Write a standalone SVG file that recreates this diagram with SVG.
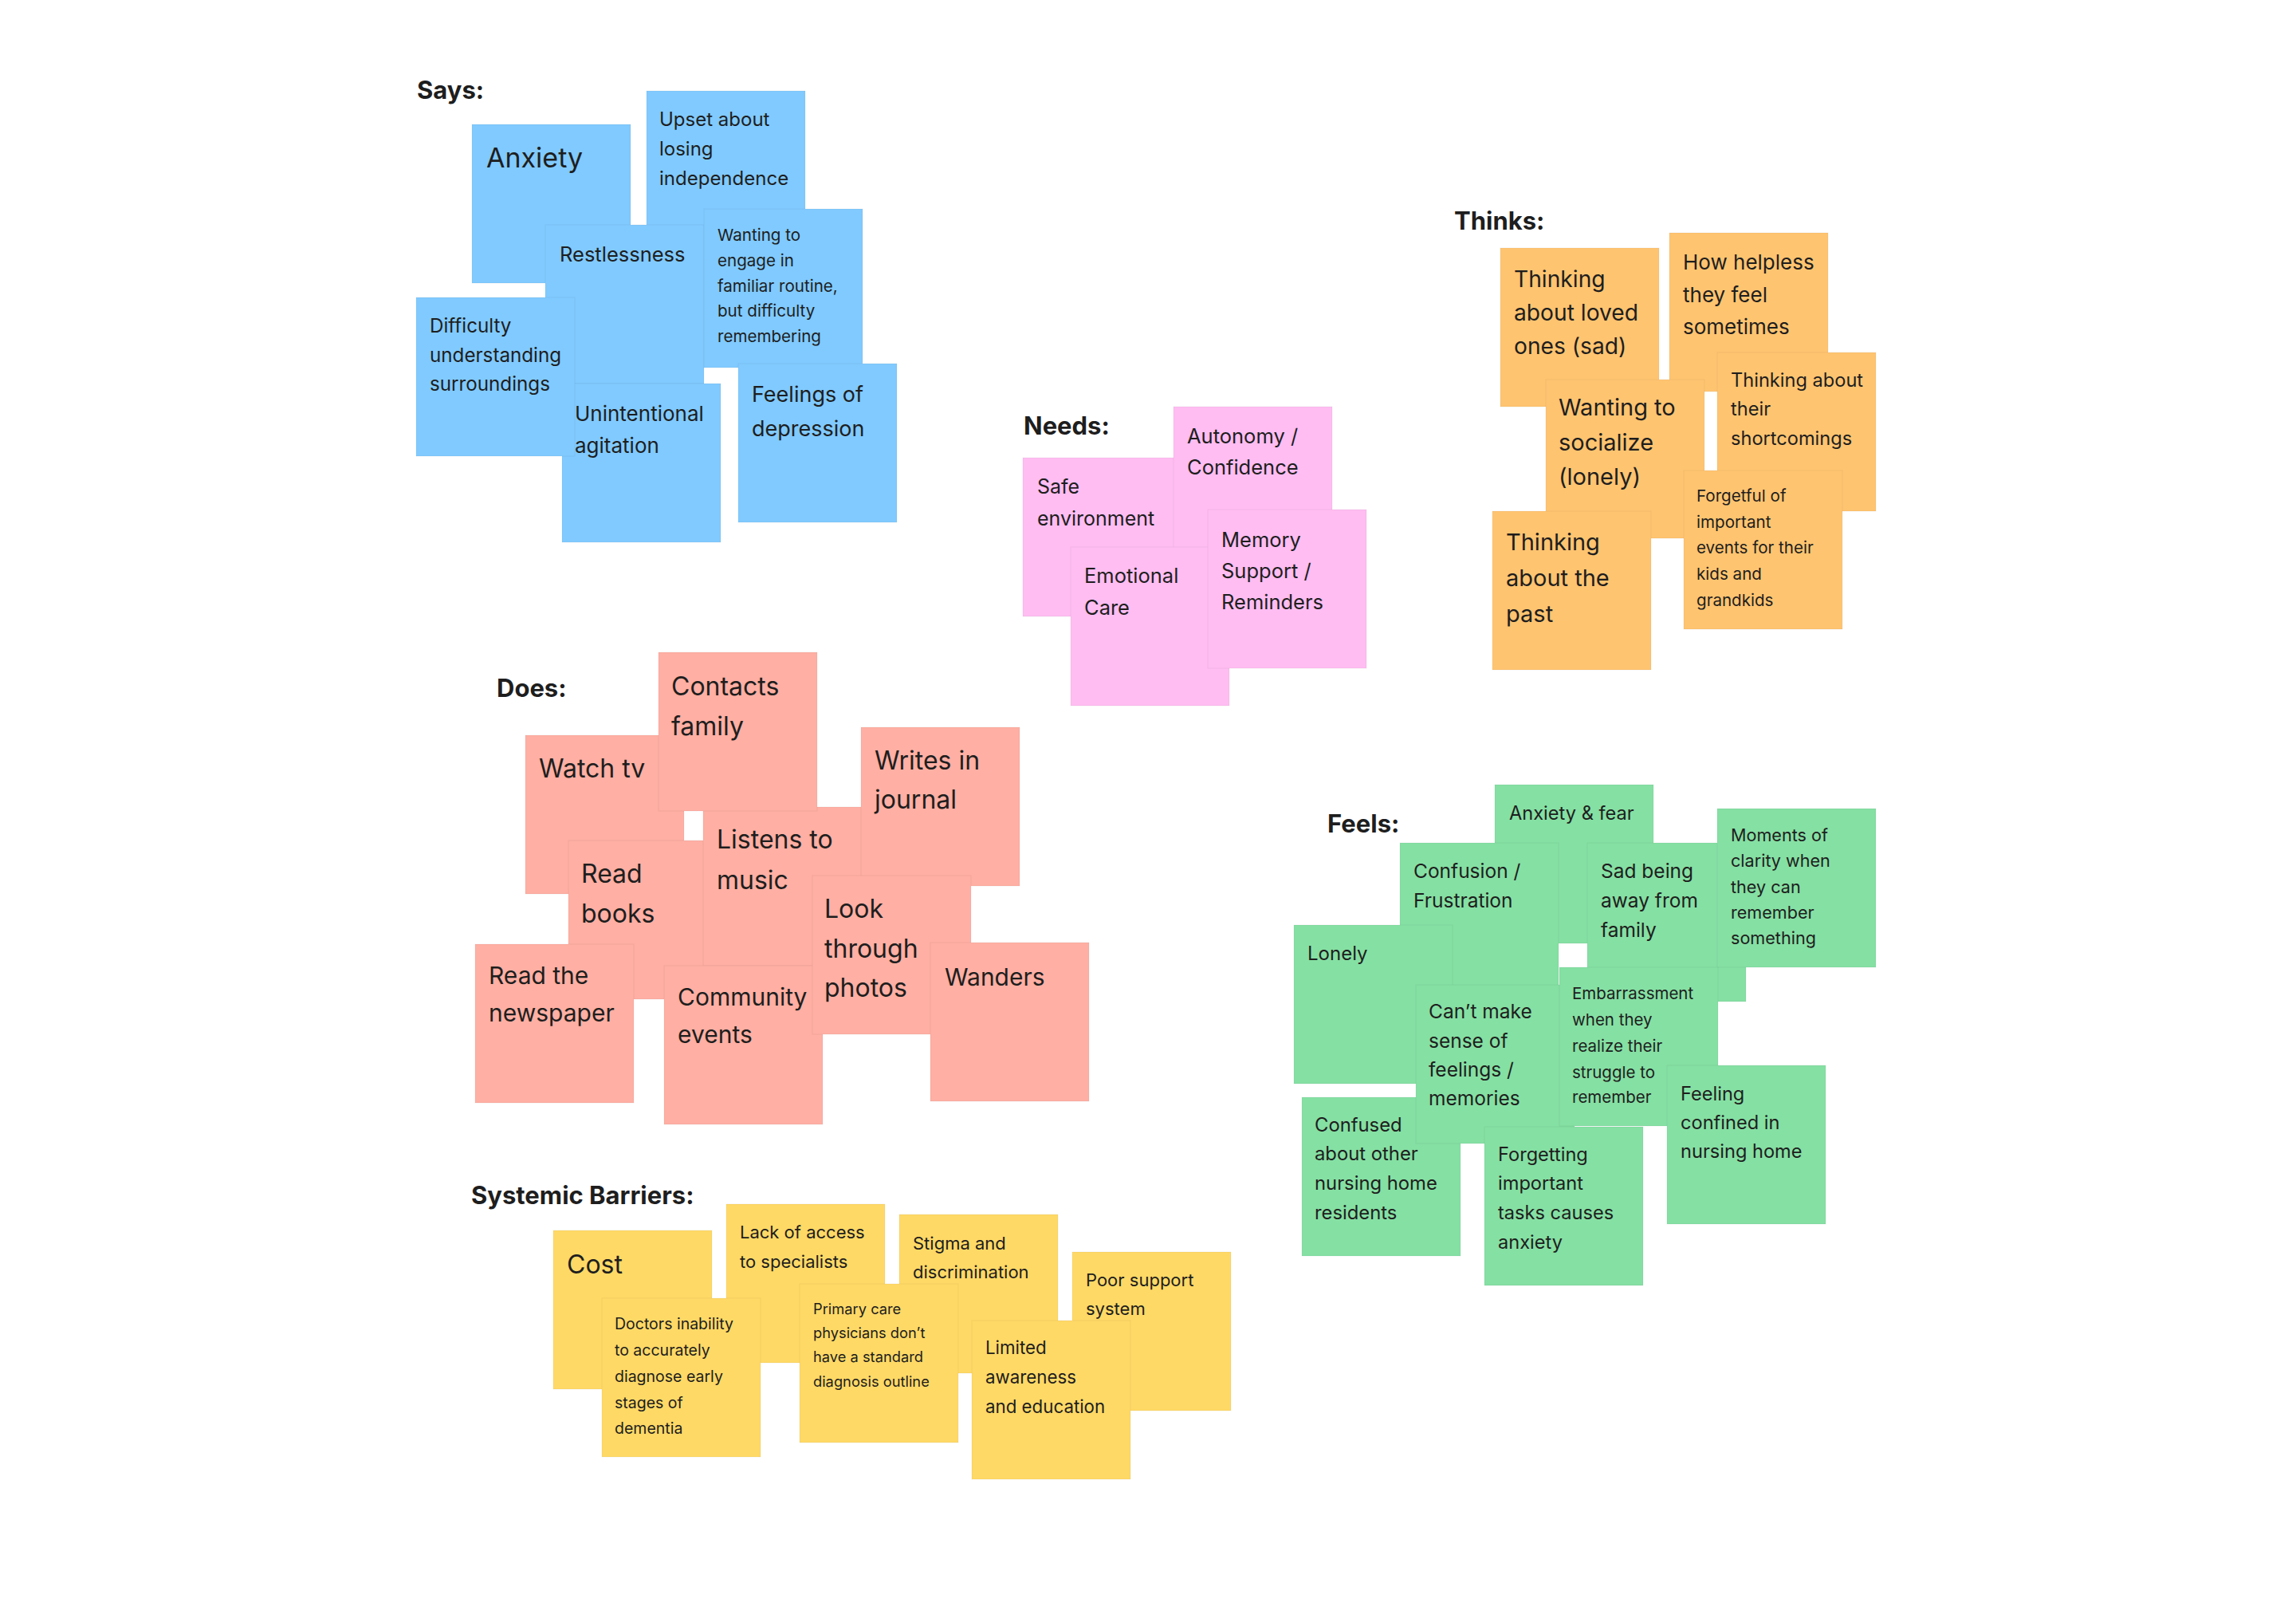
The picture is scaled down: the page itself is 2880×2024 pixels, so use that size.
<svg xmlns="http://www.w3.org/2000/svg" width="2880" height="2024" viewBox="0 0 2880 2024">
<style>
.st{stroke:rgba(0,0,0,0.05);stroke-width:1}
.blue{fill:#80CAFF}.pink{fill:#FFBDF2}.orange{fill:#FFC470}.red{fill:#FFAFA3}.green{fill:#85E0A3}.yellow{fill:#FFD966}
text{font-family:Inter,"Noto Sans","Liberation Sans",sans-serif;fill:#1e1e1e}
.h{font-weight:700;font-size:31px}
</style>
<rect width="2880" height="2024" fill="#ffffff"/>
<g id="titles">
<text class="h" x="523" y="124">Says:</text>
<text class="h" x="1824" y="288">Thinks:</text>
<text class="h" x="1284" y="545">Needs:</text>
<text class="h" x="623" y="874">Does:</text>
<text class="h" x="1665" y="1044">Feels:</text>
<text class="h" x="591" y="1510">Systemic Barriers:</text>
</g>
<g id="connectors"></g>
<g id="says">
<g id="s-anxiety"><rect class="st blue" x="592" y="156" width="199" height="199"/><text x="610" y="210" font-size="34">Anxiety</text></g>
<g id="s-upset"><rect class="st blue" x="811" y="114" width="199" height="199"/><text font-size="24"><tspan x="827" y="158">Upset about</tspan><tspan x="827" y="195">losing</tspan><tspan x="827" y="232">independence</tspan></text></g>
<g id="s-restless"><rect class="st blue" x="684" y="282" width="199" height="199"/><text x="702" y="328" font-size="25.5">Restlessness</text></g>
<g id="s-wanting"><rect class="st blue" x="883" y="262" width="199" height="199"/><text font-size="20.6"><tspan x="900" y="302">Wanting to</tspan><tspan x="900" y="334">engage in</tspan><tspan x="900" y="366">familiar routine,</tspan><tspan x="900" y="397">but difficulty</tspan><tspan x="900" y="429">remembering</tspan></text></g>
<g id="s-unintentional"><rect class="st blue" x="705" y="481" width="199" height="199"/><text font-size="26"><tspan x="721" y="528">Unintentional</tspan><tspan x="721" y="568">agitation</tspan></text></g>
<g id="s-difficulty"><rect class="st blue" x="522" y="373" width="199" height="199"/><text font-size="24.2"><tspan x="539" y="417">Difficulty</tspan><tspan x="539" y="454">understanding</tspan><tspan x="539" y="490">surroundings</tspan></text></g>
<g id="s-feelings"><rect class="st blue" x="926" y="456" width="199" height="199"/><text font-size="27"><tspan x="943" y="504">Feelings of</tspan><tspan x="943" y="547">depression</tspan></text></g>
</g>
<g id="needs">
<g id="n-safe"><rect class="st pink" x="1283" y="574" width="199" height="199"/><text font-size="25"><tspan x="1301" y="619">Safe</tspan><tspan x="1301" y="659">environment</tspan></text></g>
<g id="n-autonomy"><rect class="st pink" x="1472" y="510" width="199" height="199"/><text font-size="25.5"><tspan x="1489" y="556">Autonomy /</tspan><tspan x="1489" y="595">Confidence</tspan></text></g>
<g id="n-emotional"><rect class="st pink" x="1343" y="686" width="199" height="199"/><text font-size="25.5"><tspan x="1360" y="731">Emotional</tspan><tspan x="1360" y="771">Care</tspan></text></g>
<g id="n-memory"><rect class="st pink" x="1515" y="639" width="199" height="199"/><text font-size="25.5"><tspan x="1532" y="686">Memory</tspan><tspan x="1532" y="725">Support /</tspan><tspan x="1532" y="764">Reminders</tspan></text></g>
</g>
<g id="thinks">
<g id="t-loved"><rect class="st orange" x="1882" y="311" width="199" height="199"/><text font-size="28.2"><tspan x="1899" y="360">Thinking</tspan><tspan x="1899" y="402">about loved</tspan><tspan x="1899" y="444">ones (sad)</tspan></text></g>
<g id="t-helpless"><rect class="st orange" x="2094" y="292" width="199" height="199"/><text font-size="26"><tspan x="2111" y="338">How helpless</tspan><tspan x="2111" y="379">they feel</tspan><tspan x="2111" y="419">sometimes</tspan></text></g>
<g id="t-socialize"><rect class="st orange" x="1939" y="476" width="199" height="199"/><text font-size="29"><tspan x="1955" y="521">Wanting to</tspan><tspan x="1955" y="565">socialize</tspan><tspan x="1955" y="608">(lonely)</tspan></text></g>
<g id="t-shortcomings"><rect class="st orange" x="2154" y="442" width="199" height="199"/><text font-size="23.6"><tspan x="2171" y="485">Thinking about</tspan><tspan x="2171" y="521">their</tspan><tspan x="2171" y="558">shortcomings</tspan></text></g>
<g id="t-forgetful"><rect class="st orange" x="2112" y="590" width="199" height="199"/><text font-size="20.6"><tspan x="2128" y="629">Forgetful of</tspan><tspan x="2128" y="662">important</tspan><tspan x="2128" y="694">events for their</tspan><tspan x="2128" y="727">kids and</tspan><tspan x="2128" y="760">grandkids</tspan></text></g>
<g id="t-past"><rect class="st orange" x="1872" y="641" width="199" height="199"/><text font-size="29"><tspan x="1889" y="690">Thinking</tspan><tspan x="1889" y="735">about the</tspan><tspan x="1889" y="780">past</tspan></text></g>
</g>
<g id="does">
<g id="d-watch"><rect class="st red" x="659" y="922" width="199" height="199"/><text x="676" y="975" font-size="32">Watch tv</text></g>
<g id="d-read"><rect class="st red" x="713" y="1054" width="199" height="199"/><text font-size="32"><tspan x="729" y="1107">Read</tspan><tspan x="729" y="1157">books</tspan></text></g>
<g id="d-listens"><rect class="st red" x="882" y="1012" width="199" height="199"/><text font-size="32"><tspan x="899" y="1064">Listens to</tspan><tspan x="899" y="1115">music</tspan></text></g>
<g id="d-contacts"><rect class="st red" x="826" y="818" width="199" height="199"/><text font-size="32"><tspan x="842" y="872">Contacts</tspan><tspan x="842" y="922">family</tspan></text></g>
<g id="d-writes"><rect class="st red" x="1080" y="912" width="199" height="199"/><text font-size="32"><tspan x="1097" y="965">Writes in</tspan><tspan x="1097" y="1014">journal</tspan></text></g>
<g id="d-newspaper"><rect class="st red" x="596" y="1184" width="199" height="199"/><text font-size="30"><tspan x="613" y="1234">Read the</tspan><tspan x="613" y="1281">newspaper</tspan></text></g>
<g id="d-community"><rect class="st red" x="833" y="1211" width="199" height="199"/><text font-size="30"><tspan x="850" y="1261">Community</tspan><tspan x="850" y="1308">events</tspan></text></g>
<g id="d-look"><rect class="st red" x="1019" y="1098" width="199" height="199"/><text font-size="32"><tspan x="1034" y="1151">Look</tspan><tspan x="1034" y="1201">through</tspan><tspan x="1034" y="1250">photos</tspan></text></g>
<g id="d-wanders"><rect class="st red" x="1167" y="1182" width="199" height="199"/><text x="1185" y="1236" font-size="30">Wanders</text></g>
</g>
<g id="feels">
<g id="f-anxiety"><rect class="st green" x="1875" y="984" width="199" height="199"/><text x="1893" y="1028" font-size="23.6">Anxiety &amp; fear</text></g>
<g id="f-confusion"><rect class="st green" x="1756" y="1057" width="199" height="199"/><text font-size="24.5"><tspan x="1773" y="1101">Confusion /</tspan><tspan x="1773" y="1138">Frustration</tspan></text></g>
<g id="f-sad"><rect class="st green" x="1991" y="1057" width="199" height="199"/><text font-size="24.5"><tspan x="2008" y="1101">Sad being</tspan><tspan x="2008" y="1138">away from</tspan><tspan x="2008" y="1175">family</tspan></text></g>
<g id="f-lonely"><rect class="st green" x="1623" y="1160" width="199" height="199"/><text x="1640" y="1204" font-size="24">Lonely</text></g>
<g id="f-confused"><rect class="st green" x="1633" y="1376" width="199" height="199"/><text font-size="23.8"><tspan x="1649" y="1419">Confused</tspan><tspan x="1649" y="1455">about other</tspan><tspan x="1649" y="1492">nursing home</tspan><tspan x="1649" y="1529">residents</tspan></text></g>
<g id="f-cantmake"><rect class="st green" x="1776" y="1235" width="199" height="199"/><text font-size="24.5"><tspan x="1792" y="1277">Can’t make</tspan><tspan x="1792" y="1314">sense of</tspan><tspan x="1792" y="1350">feelings /</tspan><tspan x="1792" y="1386">memories</tspan></text></g>
<g id="f-moments"><rect class="st green" x="2154" y="1014" width="199" height="199"/><text font-size="21.6"><tspan x="2171" y="1055">Moments of</tspan><tspan x="2171" y="1087">clarity when</tspan><tspan x="2171" y="1120">they can</tspan><tspan x="2171" y="1152">remember</tspan><tspan x="2171" y="1184">something</tspan></text></g>
<g id="f-embarrassment"><rect class="st green" x="1956" y="1213" width="199" height="199"/><text font-size="20.5"><tspan x="1972" y="1253">Embarrassment</tspan><tspan x="1972" y="1286">when they</tspan><tspan x="1972" y="1319">realize their</tspan><tspan x="1972" y="1352">struggle to</tspan><tspan x="1972" y="1383">remember</tspan></text></g>
<g id="f-forgetting"><rect class="st green" x="1862" y="1413" width="199" height="199"/><text font-size="23.6"><tspan x="1879" y="1456">Forgetting</tspan><tspan x="1879" y="1492">important</tspan><tspan x="1879" y="1529">tasks causes</tspan><tspan x="1879" y="1566">anxiety</tspan></text></g>
<g id="f-confined"><rect class="st green" x="2091" y="1336" width="199" height="199"/><text font-size="23.6"><tspan x="2108" y="1380">Feeling</tspan><tspan x="2108" y="1416">confined in</tspan><tspan x="2108" y="1452">nursing home</tspan></text></g>
</g>
<g id="barriers">
<g id="b-cost"><rect class="st yellow" x="694" y="1543" width="199" height="199"/><text x="711" y="1597" font-size="32">Cost</text></g>
<g id="b-lack"><rect class="st yellow" x="911" y="1510" width="199" height="199"/><text font-size="22"><tspan x="928" y="1553">Lack of access</tspan><tspan x="928" y="1590">to specialists</tspan></text></g>
<g id="b-stigma"><rect class="st yellow" x="1128" y="1523" width="199" height="199"/><text font-size="22"><tspan x="1145" y="1567">Stigma and</tspan><tspan x="1145" y="1603">discrimination</tspan></text></g>
<g id="b-poor"><rect class="st yellow" x="1345" y="1570" width="199" height="199"/><text font-size="22"><tspan x="1362" y="1613">Poor support</tspan><tspan x="1362" y="1649">system</tspan></text></g>
<g id="b-doctors"><rect class="st yellow" x="755" y="1628" width="199" height="199"/><text font-size="19.5"><tspan x="771" y="1667">Doctors inability</tspan><tspan x="771" y="1700">to accurately</tspan><tspan x="771" y="1733">diagnose early</tspan><tspan x="771" y="1766">stages of</tspan><tspan x="771" y="1798">dementia</tspan></text></g>
<g id="b-primary"><rect class="st yellow" x="1003" y="1610" width="199" height="199"/><text font-size="18.3"><tspan x="1020" y="1648">Primary care</tspan><tspan x="1020" y="1678">physicians don’t</tspan><tspan x="1020" y="1708">have a standard</tspan><tspan x="1020" y="1739">diagnosis outline</tspan></text></g>
<g id="b-limited"><rect class="st yellow" x="1219" y="1656" width="199" height="199"/><text font-size="22.3"><tspan x="1236" y="1698">Limited</tspan><tspan x="1236" y="1735">awareness</tspan><tspan x="1236" y="1772">and education</tspan></text></g>
</g>
</svg>
